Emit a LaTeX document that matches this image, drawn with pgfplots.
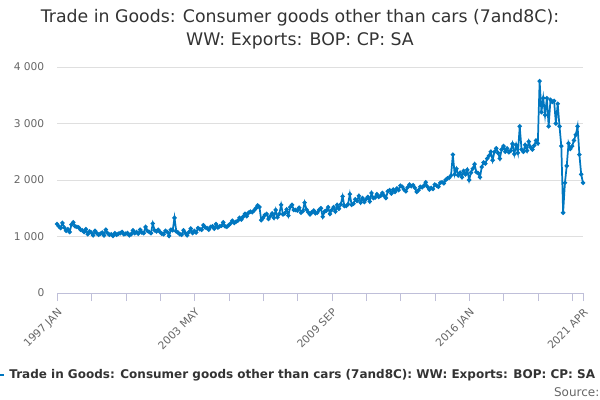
\documentclass[border=0pt]{standalone}
\usepackage{pgfplots}
\pgfplotsset{compat=1.18}
\usepackage{fontspec}
\setmainfont{DejaVu Sans}
\definecolor{ln}{HTML}{0077C0}
\definecolor{tx}{HTML}{333333}
\definecolor{gr}{HTML}{666666}
\begin{document}
\begin{tikzpicture}
\clip (0pt,0pt) rectangle (450pt,300pt);
\path[use as bounding box] (0pt,0pt) rectangle (450pt,300pt);
\begin{axis}[at={(42.75pt,80.25pt)},anchor=south west,scale only axis,width=394.5pt,height=169.5pt,
 xmin=0,xmax=291,ymin=0,ymax=4000,
 axis y line*=left, y axis line style={draw=none},
 axis x line*=bottom, x axis line style={draw=blue!25!gray!40},
 ytick={0,1000,2000,3000,4000},yticklabels={0,1 000,2 000,3 000,4 000},
 ymajorgrids, grid style={gray!25},
 major y tick style={draw=none},
 xtick={0,76,152,228,291},xticklabels={1997 JAN,2003 MAY,2009 SEP,2016 JAN,2021 APR},
 minor xtick={19,38,57,95,114,133,171,190,209,247,266,285},
 tick style={draw=blue!25!gray!40},
 major tick length=6pt, minor tick length=6pt,
 xtick pos=bottom, tick align=outside,
 x tick label style={rotate=45,anchor=north east,font=\fontsize{8}{9}\selectfont,text=gr},
 y tick label style={font=\fontsize{8}{9}\selectfont,text=gr},
 /pgf/number format/assume math mode=true,
 clip=false]
\addplot[ln,line width=1.3pt,mark=*,mark size=0.9pt] table[x expr=\coordindex,y index=0]{
v
1220
1180
1150
1240
1160
1100
1130
1080
1210
1250
1180
1170
1160
1120
1110
1080
1130
1040
1090
1070
1020
1100
1060
1030
1050
1070
1020
1120
1060
1030
1040
1010
1060
1030
1050
1060
1080
1040
1050
1060
1020
1040
1110
1060
1080
1050
1120
1070
1060
1170
1100
1080
1060
1230
1110
1090
1120
1080
1050
1040
1100
1080
1010
1120
1110
1330
1090
1070
1040
1030
1110
1060
1020
1080
1140
1060
1100
1070
1150
1130
1120
1200
1160
1150
1120
1170
1180
1140
1220
1160
1180
1190
1250
1180
1170
1200
1230
1280
1240
1260
1280
1330
1300
1350
1400
1360
1420
1440
1430
1460
1500
1550
1520
1290
1330
1380
1400
1310
1360
1410
1330
1470
1340
1400
1560
1390
1410
1480
1370
1520
1560
1470
1470
1460
1510
1420
1450
1600
1480
1430
1390
1430
1460
1410
1420
1470
1500
1350
1440
1460
1520
1400
1470
1520
1440
1560
1490
1570
1710
1540
1540
1570
1750
1560
1580
1660
1630
1720
1600
1680
1610
1660
1700
1620
1770
1680
1690
1750
1700
1720
1770
1720
1680
1800
1820
1760
1830
1790
1850
1820
1900
1880
1830
1800
1870
1920
1890
1910
1860
1790
1820
1880
1870
1900
1960
1880
1830
1860
1840
1920
1900
1880
1950
1960
1940
2000
2030
2040
2080
2450
2100
2200
2080
2130
2050
2160
2100
2180
2000
2130
2200
2280
2140
2120
2050
2230
2310
2290
2380
2430
2500
2350
2500
2560
2480
2380
2540
2600
2500
2560
2490
2520
2640
2460
2620
2480
2950
2540
2500
2620
2520
2680
2580
2540
2610
2700
2650
3750
3200
3450
3150
3450
2950
3420
3380
3400
3000
3350
2950
2600
1420
1950
2250
2650
2550
2600
2700
2800
2950
2450
2100
1950
};
\end{axis}
\node[text=tx,align=center,font=\fontsize{13}{17}\selectfont] at (225pt,278pt) {Trade in Goods: Consumer goods other than cars (7and8C):\\WW: Exports: BOP: CP: SA};
\draw[ln,line width=1.3pt] (-2pt,18.75pt) -- (3pt,18.75pt);
\node[anchor=west,text=tx,font=\fontsize{9}{11}\selectfont\bfseries] at (3.5pt,18.75pt) {Trade in Goods: Consumer goods other than cars (7and8C): WW: Exports: BOP: CP: SA};
\node[anchor=west,text=gr,font=\fontsize{9}{11}\selectfont] at (412pt,6pt) {Source: ONS};
\end{tikzpicture}
\end{document}
